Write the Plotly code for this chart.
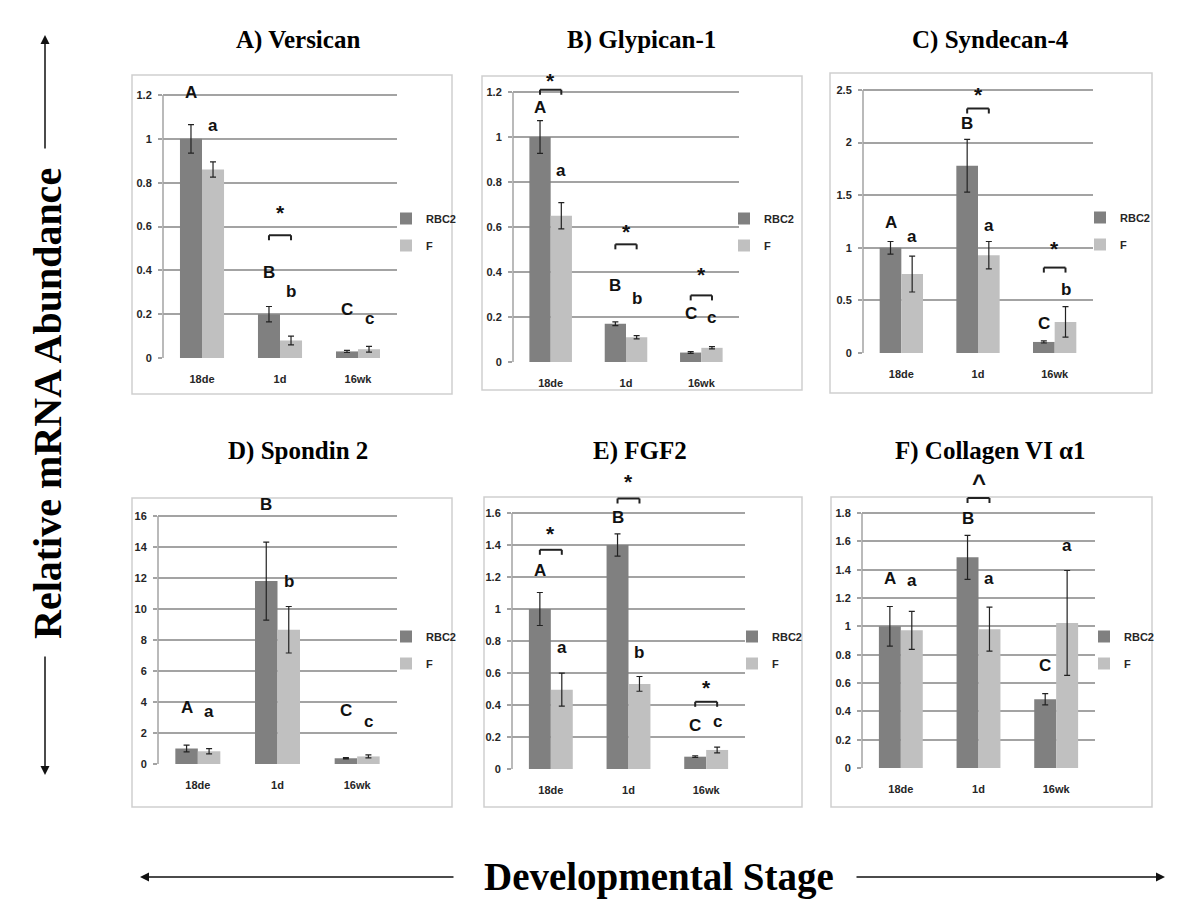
import plotly.graph_objects as go

# ---------------- data ----------------
categories = ["18de", "1d", "16wk"]
series_names = ["RBC2", "F"]

panel_titles = ["A) Versican", "B) Glypican-1", "C) Syndecan-4",
                "D) Spondin 2", "E) FGF2", "F) Collagen VI α1"]

versican_rbc2 = [1.00, 0.20, 0.030]
versican_rbc2_err = [0.065, 0.035, 0.005]
versican_f = [0.86, 0.08, 0.040]
versican_f_err = [0.035, 0.020, 0.013]

glypican_rbc2 = [1.00, 0.17, 0.042]
glypican_rbc2_err = [0.073, 0.008, 0.004]
glypican_f = [0.65, 0.11, 0.063]
glypican_f_err = [0.058, 0.007, 0.005]

syndecan_rbc2 = [1.00, 1.78, 0.105]
syndecan_rbc2_err = [0.06, 0.25, 0.010]
syndecan_f = [0.75, 0.93, 0.295]
syndecan_f_err = [0.17, 0.13, 0.145]

spondin_rbc2 = [1.00, 11.80, 0.37]
spondin_rbc2_err = [0.22, 2.52, 0.04]
spondin_f = [0.82, 8.66, 0.49]
spondin_f_err = [0.17, 1.50, 0.10]

fgf2_rbc2 = [1.00, 1.40, 0.077]
fgf2_rbc2_err = [0.103, 0.070, 0.005]
fgf2_f = [0.496, 0.532, 0.119]
fgf2_f_err = [0.103, 0.046, 0.018]

col6_rbc2 = [1.00, 1.487, 0.485]
col6_rbc2_err = [0.14, 0.155, 0.040]
col6_f = [0.972, 0.980, 1.024]
col6_f_err = [0.134, 0.155, 0.370]

ticks_a = [0, 0.2, 0.4, 0.6, 0.8, 1.0, 1.2]
ticklabels_a = ["0", "0.2", "0.4", "0.6", "0.8", "1", "1.2"]
ticks_c = [0, 0.5, 1.0, 1.5, 2.0, 2.5]
ticklabels_c = ["0", "0.5", "1", "1.5", "2", "2.5"]
ticks_d = [0, 2, 4, 6, 8, 10, 12, 14, 16]
ticklabels_d = ["0", "2", "4", "6", "8", "10", "12", "14", "16"]
ticks_e = [0, 0.2, 0.4, 0.6, 0.8, 1.0, 1.2, 1.4, 1.6]
ticklabels_e = ["0", "0.2", "0.4", "0.6", "0.8", "1", "1.2", "1.4", "1.6"]
ticks_f = [0, 0.2, 0.4, 0.6, 0.8, 1.0, 1.2, 1.4, 1.6, 1.8]
ticklabels_f = ["0", "0.2", "0.4", "0.6", "0.8", "1", "1.2", "1.4", "1.6", "1.8"]

# significance letters: (category index, series 0=RBC2 1=F, y value, text)
letters_a = [(0, 0, 1.21, "A"), (0, 1, 1.063, "a"), (1, 0, 0.392, "B"),
             (1, 1, 0.304, "b"), (2, 0, 0.223, "C"), (2, 1, 0.178, "c")]
letters_b = [(0, 0, 1.133, "A"), (0, 1, 0.852, "a"), (1, 0, 0.341, "B"),
             (1, 1, 0.281, "b"), (2, 0, 0.215, "C"), (2, 1, 0.196, "c")]
letters_c = [(0, 0, 1.237, "A"), (0, 1, 1.104, "a"), (1, 0, 2.18, "B"),
             (1, 1, 1.215, "a"), (2, 0, 0.279, "C"), (2, 1, 0.603, "b")]
letters_d = [(0, 0, 3.67, "A"), (0, 1, 3.39, "a"), (1, 0, 16.75, "B"),
             (1, 1, 11.77, "b"), (2, 0, 3.44, "C"), (2, 1, 2.75, "c")]
letters_e = [(0, 0, 1.239, "A"), (0, 1, 0.761, "a"), (1, 0, 1.575, "B"),
             (1, 1, 0.73, "b"), (2, 0, 0.275, "C"), (2, 1, 0.296, "c")]
letters_f = [(0, 0, 1.336, "A"), (0, 1, 1.322, "a"), (1, 0, 1.758, "B"),
             (1, 1, 1.336, "a"), (2, 0, 0.725, "C"), (2, 1, 1.569, "a")]

# significance brackets: (category index, bracket y, symbol y, symbol)
brackets_a = [(1, 0.56, 0.684, "*")]
brackets_b = [(0, 1.21, 1.267, "*"), (1, 0.523, 0.60, "*"), (2, 0.296, 0.407, "*")]
brackets_c = [(1, 2.325, 2.50, "*"), (2, 0.812, 1.034, "*")]
brackets_d = []
brackets_e = [(0, 1.37, 1.496, "*"), (1, 1.69, 1.819, "*"), (2, 0.42, 0.532, "*")]
brackets_f = [(1, 1.906, 2.047, "^")]

panels = [
    dict(vals=[versican_rbc2, versican_f], errs=[versican_rbc2_err, versican_f_err],
         ticks=ticks_a, labels=ticklabels_a, letters=letters_a, brackets=brackets_a),
    dict(vals=[glypican_rbc2, glypican_f], errs=[glypican_rbc2_err, glypican_f_err],
         ticks=ticks_a, labels=ticklabels_a, letters=letters_b, brackets=brackets_b),
    dict(vals=[syndecan_rbc2, syndecan_f], errs=[syndecan_rbc2_err, syndecan_f_err],
         ticks=ticks_c, labels=ticklabels_c, letters=letters_c, brackets=brackets_c),
    dict(vals=[spondin_rbc2, spondin_f], errs=[spondin_rbc2_err, spondin_f_err],
         ticks=ticks_d, labels=ticklabels_d, letters=letters_d, brackets=brackets_d),
    dict(vals=[fgf2_rbc2, fgf2_f], errs=[fgf2_rbc2_err, fgf2_f_err],
         ticks=ticks_e, labels=ticklabels_e, letters=letters_e, brackets=brackets_e),
    dict(vals=[col6_rbc2, col6_f], errs=[col6_rbc2_err, col6_f_err],
         ticks=ticks_f, labels=ticklabels_f, letters=letters_f, brackets=brackets_f),
]

# ---------------- layout geometry (pixels in the 1200x924 page) ----------------
PAGE_W, PAGE_H = 1200, 924
BODY = 8                       # default page margin around the plot div
W, H = PAGE_W - 2 * BODY, PAGE_H - 2 * BODY
# plot area: left, right, y of zero line, y of top gridline
plot_px = [(163, 397, 358, 95), (513, 739, 362, 92), (863, 1093, 353, 90),
           (158, 397, 764, 516), (512, 745, 769, 513), (862, 1095, 768, 513)]
box_px = [(132, 75, 452, 394), (482, 76, 802, 390), (830, 73, 1152, 393),
          (132, 498, 452, 807), (484, 497, 802, 807), (831, 497, 1152, 807)]
title_px = [(298, 40), (641, 40), (990, 40), (298, 451), (640, 451), (990, 451)]
legend_px = [(386, 232), (724, 232), (1080, 231), (386, 650), (732, 650), (1084, 650)]

bar_colors = ["#808080", "#c0c0c0"]
grid_color = "#a3a3a3"
box_color = "#cfcfcf"
BARGAP = 0.435
OFF = (1 - BARGAP) / 4
HEAD = 1.2

sans = "Liberation Sans, Arial, sans-serif"
tick_font = dict(family=sans, size=11, color="#262626", weight="bold")
letter_font = dict(family=sans, size=17, color="#111111", weight="bold")
star_font = dict(family=sans, size=21, color="#111111", weight="bold")
serif_bold = "Liberation Serif, Times New Roman, serif"


def px(x):
    return (x - BODY) / W


def py(y):
    return 1 - (y - BODY) / H


fig = go.Figure()
layout = dict(width=W, height=H,
              margin=dict(l=0, r=0, t=0, b=0, pad=0, autoexpand=False),
              paper_bgcolor="white", plot_bgcolor="white",
              barmode="group", bargap=BARGAP, bargroupgap=0, showlegend=True)
shapes = []
annotations = []

for i, p in enumerate(panels):
    n = i + 1
    sfx = "" if n == 1 else str(n)
    xa, ya = "x" + sfx, "y" + sfx
    leg = "legend" + sfx
    for s in range(2):
        fig.add_trace(go.Bar(
            x=categories, y=p["vals"][s], name=series_names[s],
            marker=dict(color=bar_colors[s], line=dict(width=0)),
            error_y=dict(type="data", array=p["errs"][s], color="#222222",
                         thickness=1.2, width=3),
            xaxis=xa, yaxis=ya, legend=leg, legendgroup=f"g{n}{s}",
            showlegend=True))

    x0, x1, yz, yt = plot_px[i]
    top = p["ticks"][-1]
    rmax = top * HEAD
    ppu = (yz - yt) / top
    ytop_ext = yz - rmax * ppu

    layout["xaxis" + sfx] = dict(
        domain=[px(x0), px(x1)], range=[-0.5, 2.5], type="category",
        anchor=ya, showgrid=False, zeroline=False, showline=False, ticks="",
        tickfont=tick_font, ticklabelstandoff=13, fixedrange=True, automargin=False)
    layout["yaxis" + sfx] = dict(
        domain=[py(yz), py(ytop_ext)], range=[0, rmax], anchor=xa,
        tickvals=p["ticks"], ticktext=p["labels"], showgrid=True,
        gridcolor=grid_color, gridwidth=1.5, zeroline=False, showline=False,
        ticks="outside", ticklen=4, tickwidth=1.5, tickcolor=grid_color,
        tickfont=tick_font, ticklabelstandoff=4, fixedrange=True, automargin=False)

    # y-axis line from 0 to top tick
    shapes.append(dict(type="line", xref=xa + " domain", yref=ya, x0=0, x1=0,
                       y0=0, y1=top, line=dict(color=grid_color, width=1.5)))
    # panel frame
    bx0, by0, bx1, by1 = box_px[i]
    shapes.append(dict(type="rect", xref="paper", yref="paper",
                       x0=px(bx0), x1=px(bx1), y0=py(by1), y1=py(by0),
                       line=dict(color=box_color, width=1.5), layer="below"))

    # title
    tx, ty = title_px[i]
    annotations.append(dict(text="<b>" + panel_titles[i] + "</b>", xref="paper", yref="paper",
                            x=px(tx), y=py(ty), xanchor="center", yanchor="middle",
                            showarrow=False,
                            font=dict(family=serif_bold, size=25, color="black")))

    # letters
    for c, s, yv, t in p["letters"]:
        annotations.append(dict(text=t, xref=xa, yref=ya,
                                x=c + (-OFF if s == 0 else OFF), y=yv,
                                xanchor="center", yanchor="middle",
                                showarrow=False, font=letter_font))

    # brackets and significance symbols
    for c, yb, ys, sym in p["brackets"]:
        bl, br = c - OFF, c + OFF
        shapes.append(dict(type="line", xref=xa, yref=ya, x0=bl, x1=br, y0=yb, y1=yb,
                           line=dict(color="#222222", width=2)))
        for bxv in (bl, br):
            shapes.append(dict(type="line", xref=xa, yref=ya, x0=bxv, x1=bxv,
                               ysizemode="pixel", yanchor=yb, y0=0, y1=-5,
                               line=dict(color="#222222", width=2)))
        if sym == "*":
            annotations.append(dict(text=sym, xref=xa, yref=ya, x=c, y=ys,
                                    xanchor="center", yanchor="middle",
                                    showarrow=False, font=star_font, yshift=-4))
        else:
            annotations.append(dict(text=sym, xref=xa, yref=ya, x=c, y=ys,
                                    xanchor="center", yanchor="middle",
                                    showarrow=False,
                                    font=dict(family=sans, size=24, color="#111111",
                                              weight="bold"),
                                    yshift=-4))

    # legend
    lx, ly = legend_px[i]
    layout[leg] = dict(x=px(lx), y=py(ly), xanchor="left", yanchor="middle",
                       bgcolor="rgba(0,0,0,0)", borderwidth=0,
                       traceorder="grouped", tracegroupgap=8,
                       font=dict(family=sans, size=11, color="#262626", weight="bold"))

# overall axis labels with arrows
annotations.append(dict(text="<b>Relative mRNA Abundance</b>", xref="paper", yref="paper",
                        x=px(47), y=py(404), xanchor="center", yanchor="middle",
                        textangle=-90, showarrow=False,
                        font=dict(family=serif_bold, size=40, color="black")))
annotations.append(dict(text="<b>Developmental Stage</b>", xref="paper", yref="paper",
                        x=px(659), y=py(877), xanchor="center", yanchor="middle",
                        showarrow=False,
                        font=dict(family=serif_bold, size=39, color="black")))
arrow_style = dict(xref="paper", yref="paper", text="", showarrow=True, arrowhead=2,
                   arrowsize=1.2, arrowwidth=1.5, arrowcolor="#111111")
annotations.append(dict(x=px(45), y=py(35), ax=0, ay=115, **arrow_style))
annotations.append(dict(x=px(45), y=py(775), ax=0, ay=-120, **arrow_style))
annotations.append(dict(x=px(140), y=py(877), ax=315, ay=0, **arrow_style))
annotations.append(dict(x=px(1165), y=py(877), ax=-310, ay=0, **arrow_style))

layout["shapes"] = shapes
layout["annotations"] = annotations
fig.update_layout(**layout)

fig.write_html("out.html")
